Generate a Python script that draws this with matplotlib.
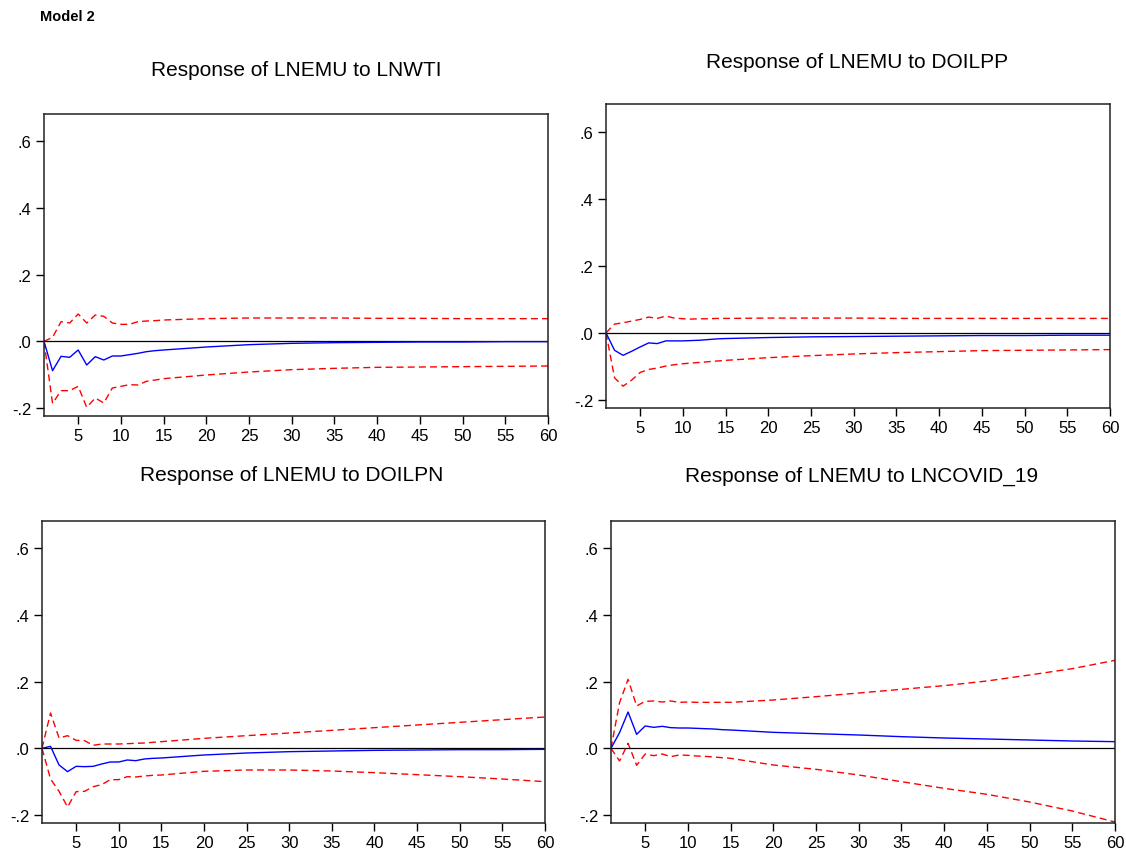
import numpy as np
import matplotlib.pyplot as plt
from matplotlib.ticker import FuncFormatter

# periods (dense at the start, every 5 afterwards)
periods = [1, 2, 3, 4, 5, 6, 7, 8, 9, 10, 11, 12, 13, 14, 15,
           20, 25, 30, 35, 40, 45, 50, 55, 60]

titles = ['Response of LNEMU to LNWTI', 'Response of LNEMU to DOILPP',
          'Response of LNEMU to DOILPN', 'Response of LNEMU to LNCOVID_19']

# LNWTI
wti_resp = [0, -0.088, -0.045, -0.048, -0.026, -0.071, -0.046, -0.056, -0.044, -0.044,
            -0.040, -0.036, -0.031, -0.028, -0.026, -0.017, -0.010, -0.006, -0.004, -0.003,
            -0.002, -0.002, -0.001, -0.001]
wti_upper = [0, 0.012, 0.059, 0.055, 0.082, 0.055, 0.079, 0.075, 0.055, 0.051,
             0.051, 0.059, 0.061, 0.062, 0.064, 0.068, 0.070, 0.070, 0.070, 0.069,
             0.069, 0.068, 0.068, 0.068]
wti_lower = [0, -0.186, -0.148, -0.148, -0.135, -0.198, -0.170, -0.185, -0.140, -0.135,
             -0.130, -0.131, -0.120, -0.116, -0.112, -0.101, -0.092, -0.085, -0.081, -0.078,
             -0.077, -0.076, -0.075, -0.074]

# DOILPP
pp_resp = [0, -0.052, -0.067, -0.055, -0.042, -0.030, -0.032, -0.024, -0.024, -0.024,
           -0.023, -0.022, -0.020, -0.018, -0.017, -0.014, -0.012, -0.011, -0.010, -0.009,
           -0.008, -0.008, -0.007, -0.007]
pp_upper = [0, 0.026, 0.030, 0.035, 0.040, 0.047, 0.043, 0.050, 0.044, 0.042,
            0.041, 0.042, 0.042, 0.043, 0.043, 0.044, 0.044, 0.044, 0.043, 0.043,
            0.043, 0.043, 0.043, 0.043]
pp_lower = [0, -0.134, -0.159, -0.141, -0.118, -0.109, -0.105, -0.099, -0.095, -0.092,
            -0.090, -0.088, -0.086, -0.084, -0.082, -0.074, -0.068, -0.063, -0.059, -0.056,
            -0.053, -0.052, -0.051, -0.050]

# DOILPN
pn_resp = [0, 0.006, -0.050, -0.070, -0.054, -0.055, -0.054, -0.047, -0.041, -0.041,
           -0.035, -0.037, -0.032, -0.030, -0.029, -0.020, -0.014, -0.010, -0.008, -0.006,
           -0.005, -0.004, -0.004, -0.003]
pn_upper = [0, 0.106, 0.031, 0.038, 0.024, 0.023, 0.009, 0.013, 0.013, 0.013,
            0.014, 0.015, 0.016, 0.018, 0.020, 0.030, 0.038, 0.046, 0.054, 0.062,
            0.070, 0.078, 0.086, 0.094]
pn_lower = [0, -0.092, -0.129, -0.176, -0.130, -0.129, -0.115, -0.109, -0.094, -0.094,
            -0.085, -0.086, -0.083, -0.081, -0.080, -0.069, -0.065, -0.065, -0.068, -0.073,
            -0.079, -0.085, -0.092, -0.100]

# LNCOVID_19
cov_resp = [0, 0.047, 0.109, 0.042, 0.067, 0.063, 0.066, 0.062, 0.061, 0.061,
            0.060, 0.059, 0.058, 0.056, 0.055, 0.048, 0.044, 0.040, 0.035, 0.031,
            0.028, 0.025, 0.022, 0.020]
cov_upper = [0, 0.137, 0.207, 0.127, 0.141, 0.142, 0.139, 0.142, 0.138, 0.139,
             0.138, 0.138, 0.138, 0.138, 0.138, 0.145, 0.155, 0.166, 0.177, 0.188,
             0.202, 0.220, 0.239, 0.264]
cov_lower = [0, -0.038, 0.015, -0.051, -0.017, -0.022, -0.017, -0.025, -0.020, -0.021,
             -0.023, -0.024, -0.026, -0.028, -0.030, -0.050, -0.063, -0.080, -0.100, -0.120,
             -0.138, -0.161, -0.188, -0.221]

W, H = 1126, 853


def fmt_tick(v, pos):
    # EViews style: .6 / .0 / -.2
    s = '%.1f' % v
    if s == '-0.0':
        s = '0.0'
    return s.replace('0.', '.', 1)


def draw_panel(fig, box, title, title_xy, resp, upper, lower):
    # box = (left, top, right, bottom) in pixels
    l, t, r, b = box
    ax = fig.add_axes([l / W, 1 - b / H, (r - l) / W, (b - t) / H])
    ax.axhline(0, color='black', lw=0.9, zorder=1)
    ax.plot(periods, upper, color='red', lw=1.0, linestyle=(0, (5, 3)))
    ax.plot(periods, lower, color='red', lw=1.0, linestyle=(0, (5, 3)))
    ax.plot(periods, resp, color='blue', lw=1.0)
    ax.set_xlim(1, 60)
    ax.set_ylim(-0.224, 0.682)
    ax.set_xticks(range(5, 61, 5))
    ax.set_yticks([-0.2, 0.0, 0.2, 0.4, 0.6])
    ax.yaxis.set_major_formatter(FuncFormatter(fmt_tick))
    ax.tick_params(direction='out', length=6, width=1, labelsize=12, pad=3)
    for sp in ax.spines.values():
        sp.set_linewidth(1.1)
        sp.set_color('#222222')
    fig.text(title_xy[0] / W, 1 - title_xy[1] / H, title, fontsize=15,
             ha='center', va='center')
    return ax


def main():
    plt.rcParams['font.family'] = ['Liberation Sans', 'DejaVu Sans']
    fig = plt.figure(figsize=(W / 100, H / 100), dpi=100)

    fig.text(40 / W, 1 - 17 / H, 'Model 2', fontsize=10.5, fontweight='bold',
             ha='left', va='center')

    draw_panel(fig, (44, 115, 548, 417), titles[0], (296, 70), wti_resp, wti_upper, wti_lower)
    draw_panel(fig, (606, 105, 1110, 409), titles[1], (857, 62), pp_resp, pp_upper, pp_lower)
    draw_panel(fig, (42, 522, 545, 824), titles[2], (292, 476), pn_resp, pn_upper, pn_lower)
    draw_panel(fig, (611, 522, 1115, 824), titles[3], (862, 476), cov_resp, cov_upper, cov_lower)

    fig.savefig('out.png', dpi=100)


if __name__ == "__main__":
    main()
